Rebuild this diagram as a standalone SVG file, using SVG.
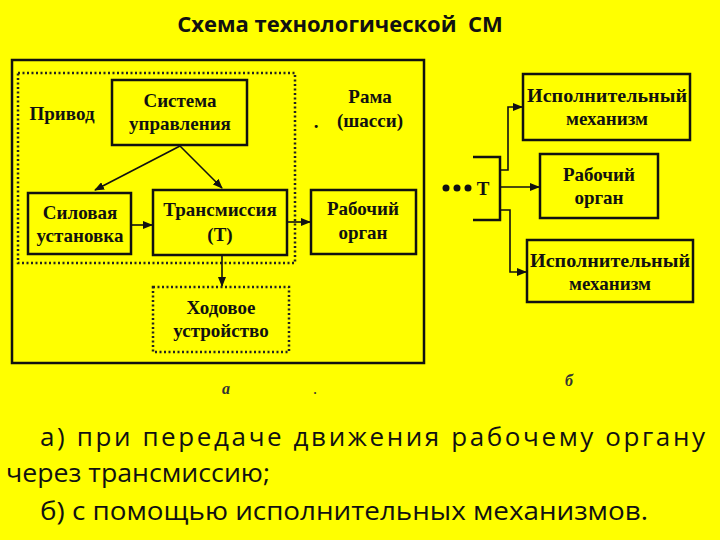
<svg xmlns="http://www.w3.org/2000/svg" width="720" height="540" viewBox="0 0 720 540">
<defs>
<style>
.b{fill:none;stroke:#111;stroke-width:2.5}
.d{fill:none;stroke:#222;stroke-width:2.5;stroke-dasharray:2 2.5}
.t{font-family:"Liberation Serif",serif;font-size:19px;fill:#111;text-anchor:middle;font-weight:bold}
.c{stroke:#111;stroke-width:1.6;fill:none}
.s{font-family:"Open Sans","Liberation Sans",sans-serif;font-size:26px;fill:#111}
</style>
<marker id="a" markerWidth="10" markerHeight="8" refX="9" refY="4" orient="auto" markerUnits="userSpaceOnUse"><path d="M0,0 L10,4 L0,8 Z" fill="#111"/></marker>
</defs>
<rect width="720" height="540" fill="#ffff00"/>
<text x="340" y="32" text-anchor="middle" font-family="'Open Sans','Liberation Sans',sans-serif" font-size="22" font-weight="bold" fill="#111" xml:space="preserve">Схема технологической  СМ</text>
<rect class="b" x="12" y="60" width="412" height="303"/>
<g id="privod"><rect class="d" x="18" y="73" width="277" height="190"/><text class="t" x="62" y="120">Привод</text></g>
<g id="rama"><text class="t" x="370" y="103">Рама</text><text class="t" x="370" y="127">(шасси)</text><text class="t" x="316" y="128">.</text></g>
<g id="sys"><rect class="b" x="112" y="80" width="135" height="65"/><text class="t" x="180" y="107">Система</text><text class="t" x="180" y="130">управления</text></g>
<g id="sil"><rect class="b" x="28" y="193" width="103" height="61"/><text class="t" x="80" y="219">Силовая</text><text class="t" x="80" y="242">установка</text></g>
<g id="trans"><rect class="b" x="153" y="190" width="134" height="65"/><text class="t" x="220" y="216">Трансмиссия</text><text class="t" x="220" y="241">(Т)</text></g>
<g id="rab"><rect class="b" x="311" y="190" width="105" height="64"/><text class="t" x="363" y="215">Рабочий</text><text class="t" x="363" y="239">орган</text></g>
<g id="hod"><rect class="d" x="153" y="287" width="136" height="65"/><text class="t" x="221" y="314">Ходовое</text><text class="t" x="221" y="337">устройство</text></g>
<g id="im1"><rect class="b" x="523" y="74" width="167" height="66"/><text class="t" x="607" y="102" textLength="160" lengthAdjust="spacingAndGlyphs">Исполнительный</text><text class="t" x="607" y="125">механизм</text></g>
<g id="rab2"><rect class="b" x="540" y="154" width="118" height="64"/><text class="t" x="599" y="181">Рабочий</text><text class="t" x="599" y="204">орган</text></g>
<g id="im2"><rect class="b" x="527" y="240" width="166" height="62"/><text class="t" x="610" y="267" textLength="160" lengthAdjust="spacingAndGlyphs">Исполнительный</text><text class="t" x="610" y="290">механизм</text></g>
<g id="T"><circle cx="446" cy="188" r="3.5" fill="#111"/><circle cx="457" cy="188" r="3.5" fill="#111"/><circle cx="468" cy="188" r="3.5" fill="#111"/><text class="t" x="483" y="195" font-size="20">Т</text><path class="b" stroke-width="2" d="M473,157 H500 V220 H473"/></g>
<g id="connectors">
<path class="c" marker-end="url(#a)" d="M180,146 L95,190"/>
<path class="c" marker-end="url(#a)" d="M180,146 L222,188"/>
<path class="c" marker-end="url(#a)" d="M131,225 H152"/>
<path class="c" marker-end="url(#a)" d="M287,222 H310"/>
<path class="c" marker-end="url(#a)" d="M222,255 V286"/>
<path class="c" marker-end="url(#a)" d="M500,170 H508 V107 H522"/>
<path class="c" marker-end="url(#a)" d="M500,187 H539"/>
<path class="c" marker-end="url(#a)" d="M500,210 H510 V272 H526"/>
</g>
<text x="222" y="394" font-family="'Liberation Serif',serif" font-style="italic" font-weight="bold" font-size="16" fill="#333">а</text>
<text x="313" y="394" font-family="'Liberation Serif',serif" font-size="16" fill="#333">.</text>
<text x="565" y="386" font-family="'Liberation Serif',serif" font-style="italic" font-weight="bold" font-size="16" fill="#333">б</text>
<text class="s" x="40" y="446" textLength="665" lengthAdjust="spacing">а) при передаче движения рабочему органу</text>
<text class="s" x="6" y="482" textLength="264" lengthAdjust="spacingAndGlyphs">через трансмиссию;</text>
<text class="s" x="40" y="520" textLength="608" lengthAdjust="spacingAndGlyphs">б) с помощью исполнительных механизмов.</text>
</svg>
